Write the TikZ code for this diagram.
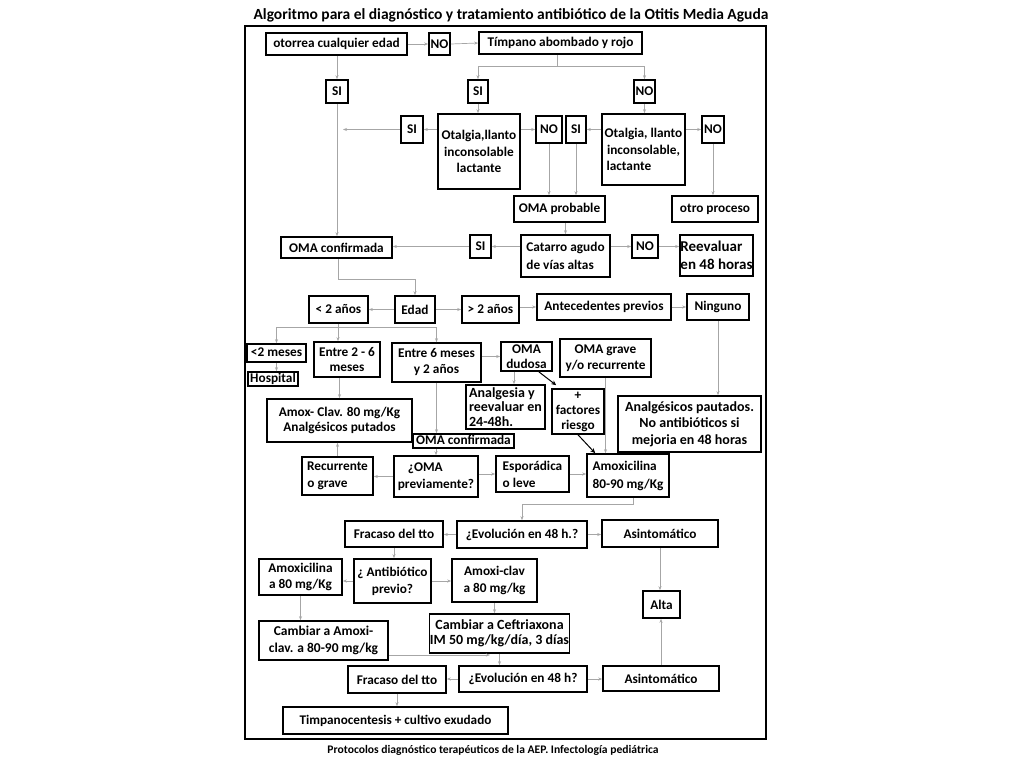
\documentclass[tikz,border=0pt]{standalone}
\usepackage{fontspec}
\setmainfont{Carlito}
\usetikzlibrary{arrows.meta,calc}
\newcommand\fs[2]{\bfseries\fontsize{#1}{#2}\selectfont}
\begin{document}
\begin{tikzpicture}[x=1pt,y=-1pt,
 box/.style={draw, line width=1.6pt, inner sep=1pt, align=center, font=\fs{13.3}{15.5}},
 arr/.style={draw=gray!70, line width=0.7pt, -{Stealth[length=4pt,width=3pt]}},
 ln/.style={draw=gray!70, line width=0.7pt},
 barr/.style={draw=black, line width=1pt, -{Stealth[length=5pt,width=4.5pt]}}]
\useasboundingbox (0,0) rectangle (1024,768);
\fill[white] (0,0) rectangle (1024,768);
\node[font=\fs{15.5}{18}] (title) at (511,15) {Algoritmo para el diagnóstico y tratamiento antibiótico de la Otitis Media Aguda};
\node[font=\fs{11.6}{14}] (foot) at (493,750) {Protocolos diagnóstico terapéuticos de la AEP. Infectología pediátrica};
\draw[line width=1.6pt] (245,26) rectangle (766,739);
% row 1
\node[box,minimum width=141pt,minimum height=22pt] (otorrea) at (336.5,44) {otorrea cualquier edad};
\node[box,minimum width=21pt,minimum height=22pt] (no1) at (439.5,44) {NO};
\node[box,minimum width=163pt,minimum height=22pt] (timp) at (560.5,43) {Tímpano abombado y rojo};
\node[box,minimum width=22pt,minimum height=23pt] (si1) at (337,91.5) {SI};
\node[box,minimum width=20pt,minimum height=23pt] (si2) at (478,91.5) {SI};
\node[box,minimum width=21pt,minimum height=23pt] (no2) at (644.5,91.5) {NO};
% row 2
\node[box,minimum width=22pt,minimum height=27pt] (si3) at (412,129.5) {SI};
\node[box,font=\fs{13.3}{16.5},minimum width=82pt,minimum height=75pt] (ot1) at (479,151.5) {Otalgia,llanto\\inconsolable\\lactante};
\node[box,minimum width=26pt,minimum height=27pt] (no3) at (549,129.5) {NO};
\node[box,minimum width=20pt,minimum height=27pt] (si4) at (576,129.5) {SI};
\node[box,font=\fs{13.3}{16.5},minimum width=83pt,minimum height=71pt] (ot2) at (643.5,149.5) {Otalgia, llanto\\inconsolable,\\lactante\hspace*{2.2em}};
\node[box,minimum width=22pt,minimum height=27pt] (no4) at (713,129.5) {NO};
\node[box,minimum width=91pt,minimum height=26pt] (omaprob) at (559.5,209) {OMA probable};
\node[box,minimum width=86pt,minimum height=26pt] (otro) at (715,209) {otro proceso};
% row 3
\node[box,minimum width=111pt,minimum height=21pt] (omaconf) at (336.5,247.5) {OMA confirmada};
\node[box,minimum width=21pt,minimum height=23pt] (si5) at (480.5,246.5) {SI};
\node[box,align=left,font=\fs{13.3}{18},minimum width=89pt,minimum height=42pt] (cat) at (565.5,256) {Catarro agudo\\de vías altas};
\node[box,align=left,font=\fs{15}{17.5},minimum width=73pt,minimum height=41pt,inner sep=0.3pt] (reev) at (716.5,255.5) {Reevaluar\\en 48 horas};
\node[box,minimum width=26pt,minimum height=23pt] (no5) at (645,246.5) {NO};
% row 4
\node[box,minimum width=40pt,minimum height=27pt] (edad) at (415,309.5) {Edad};
\node[box,minimum width=59pt,minimum height=27pt] (menos2) at (338.5,309.5) {< 2 años};
\node[box,minimum width=57pt,minimum height=27pt] (mas2) at (490.5,309.5) {> 2 años};
\node[box,minimum width=134pt,minimum height=26pt] (ante) at (604,307) {Antecedentes previos};
\node[box,minimum width=62pt,minimum height=26pt] (ning) at (718,307) {Ninguno};
% row 5
\node[box,minimum width=59pt,minimum height=18pt,inner sep=0pt,text height=9.5pt,text depth=3pt] (m2) at (276.5,353) {<2 meses};
\node[box,minimum width=50pt,minimum height=14pt,inner sep=0pt,text height=9.5pt,text depth=3pt] (hosp) at (273,379) {Hospital};
\node[box,minimum width=66pt,minimum height=35pt] (e26) at (347,359.5) {Entre 2 - 6\\meses};
\node[box,font=\fs{13.3}{16},minimum width=89pt,minimum height=39pt] (e6) at (436.5,362.5) {Entre 6 meses\\y 2 años};
\node[box,minimum width=51pt,minimum height=29pt,inner sep=0pt,font=\fs{13.3}{14.5}] (dud) at (526.5,356.5) {OMA\\dudosa};
\node[box,minimum width=91pt,minimum height=38pt] (grave) at (605.5,358) {OMA grave\\y/o recurrente};
\node[box,align=left,minimum width=79pt,minimum height=44pt,inner sep=0.3pt,font=\fs{14}{14.5}] (analg) at (505.5,407) {Analgesia y\\reevaluar en\\24-48h.};
\node[box,minimum width=52pt,minimum height=45pt,inner sep=0pt,font=\fs{13.3}{15}] (fact) at (578,411.5) {+\\factores\\riesgo};
\node[box,font=\fs{13.3}{14.5},minimum width=145pt,minimum height=43pt] (amoxclav) at (339.5,420.5) {Amox- Clav. 80 mg/Kg\\Analgésicos putados};
\node[box,minimum width=101pt,minimum height=14pt,inner sep=0pt,text height=9.5pt,text depth=3pt] (omaconf2) at (463.5,441) {OMA confirmada};
\node[box,minimum width=143pt,minimum height=56pt,font=\fs{14}{16.5}] (analgp) at (689.5,424) {Analgésicos pautados.\\No antibióticos si\\mejoria en 48 horas};
% row 6
\node[box,font=\fs{13.3}{17},minimum width=71pt,minimum height=38pt] (recur) at (337.5,476) {Recurrente\\o grave\hspace*{1.5em}};
\node[box,minimum width=84pt,minimum height=41pt,font=\fs{13.3}{17.5}] (omaprev) at (436,476.5) {¿OMA\hspace*{1.6em}\\previamente?};
\node[box,align=left,font=\fs{13.3}{17},minimum width=73pt,minimum height=36pt] (espor) at (532.5,474) {Esporádica\\o leve};
\node[box,align=left,minimum width=82pt,minimum height=43pt,font=\fs{13.3}{18}] (amoxi) at (628,475.5) {Amoxicilina\\80-90 mg/Kg};
% row 7
\node[box,minimum width=98pt,minimum height=26pt] (frac1) at (394,534) {Fracaso del tto};
\node[box,minimum width=130pt,minimum height=27pt] (evol1) at (522,534.5) {¿Evolución en 48 h.?};
\node[box,minimum width=116pt,minimum height=27pt] (asin1) at (660,533.5) {Asintomático};
% row 8
\node[box,font=\fs{13.3}{16.5},minimum width=83pt,minimum height=36pt] (amox80) at (300.5,577) {Amoxicilina\\a 80 mg/Kg};
\node[box,font=\fs{13.3}{17},minimum width=77pt,minimum height=44pt] (antib) at (392.5,581) {¿ Antibiótico\\previo?};
\node[box,font=\fs{13.3}{17},minimum width=85pt,minimum height=43pt] (amoxiclav80) at (494.5,580.5) {Amoxi-clav\\a 80 mg/kg};
\node[box,minimum width=37pt,minimum height=27pt] (alta) at (661.5,604.5) {Alta};
\node[box,minimum width=129pt,minimum height=39pt,font=\fs{13.5}{17}] (cambamox) at (323.5,640.5) {Cambiar a Amoxi-\\clav. a 80-90 mg/kg};
\node[box,minimum width=137pt,minimum height=39pt,inner sep=0.3pt,font=\fs{14}{15.5}] (ceft) at (499.5,633.5) {Cambiar a Ceftriaxona\\IM 50 mg/kg/día, 3 días};
% row 9
\node[box,minimum width=98pt,minimum height=27pt] (frac2) at (397,679.5) {Fracaso del tto};
\node[box,minimum width=128pt,minimum height=26pt] (evol2) at (523,679) {¿Evolución en 48 h?};
\node[box,minimum width=116pt,minimum height=25pt] (asin2) at (661,678.5) {Asintomático};
\node[box,font=\fs{13.2}{16},minimum width=225pt,minimum height=27pt] (timp2) at (395.5,720.5) {Timpanocentesis + cultivo exudado};
% connectors
\coordinate (br1) at ($(timp.south)+(-3,12)$);
\coordinate (br2) at (338,327);
\coordinate (x514) at (514,0);
\coordinate (ctip) at (490,655);
\draw[arr] (otorrea.east) -- (no1.west);
\draw[arr] (no1.east) -- (timp.west);
\draw[arr] (si1.north |- otorrea.south) -- (si1.north);
\draw[ln] (br1 |- timp.south) -- (br1);
\draw[arr] (br1) -| (si2.north);
\draw[arr] (br1) -| (no2.north);
\draw[arr] (si1.south) -- (si1.south |- omaconf.north);
\draw[arr] (si3.west) -- ($(si1.south |- si3.west)+(6,0)$);
\draw[arr] (si2.south) -- (si2.south |- ot1.north);
\draw[arr] (ot1.west |- si3) -- (si3.east);
\draw[arr] (ot1.east |- no3) -- (no3.west);
\draw[arr] (ot2.west |- si4) -- (si4.east);
\draw[arr] (ot2.east |- no4) -- (no4.west);
\draw[arr] (no2.south) -- (no2.south |- ot2.north);
\draw[arr] (no3.south) -- (no3.south |- omaprob.north);
\draw[arr] (si4.south) -- (si4.south |- omaprob.north);
\draw[arr] (no4.south) -- (no4.south |- otro.north);
\draw[arr] (cat.north |- omaprob.south) -- (cat.north);
\draw[arr] (cat.west |- si5) -- (si5.east);
\draw[arr] (si5.west) -- (si5.west -| omaconf.east);
\draw[arr] (cat.east |- no5) -- (no5.west);
\draw[arr] (no5.east) -- (no5.east -| reev.west);
\draw[arr] ($(omaconf.south)+(1.5,0)$) -- ++(0,21) -| (edad.north);
\draw[arr] (edad.west) -- (menos2.east);
\draw[arr] (edad.east) -- (mas2.west);
\draw[arr] (mas2.east |- ante.west) -- (ante.west);
\draw[arr] (ante.east) -- (ning.west);
\draw[ln] (br2 |- menos2.south) -- (br2);
\draw[arr] (br2) -| (m2.north);
\draw[arr] (br2) -- (br2 |- e26.north);
\draw[arr] (br2) -| (e6.north);
\draw[arr] (m2.south) -- (m2.south |- hosp.north);
\draw[arr] (amoxclav.north |- e26.south) -- (amoxclav.north);
\draw[arr] (e6.east |- dud) -- (dud.west);
\draw[arr] (e6.south) -- (e6.south |- omaconf2.north);
\draw[arr] (dud.south -| x514) -- (analg.north -| x514);
\draw[barr] ($(dud.south east)+(-14,0)$) -- ($(fact.north west)+(5,-3)$);
\draw[barr] (fact.south) -- ($(amoxi.north west)+(9,0)$);
\draw[arr] (grave.south) -- (grave.south |- amoxi.north);
\draw[arr] (ning.south) -- (ning.south |- analgp.north);
\draw[arr] (omaprev.north |- omaconf2.south) -- (omaprev.north);
\draw[arr] (omaprev.west) -- (omaprev.west -| recur.east);
\draw[arr] (omaprev.east |- espor) -- (espor.west);
\draw[arr] (espor.east) -- (espor.east -| amoxi.west);
\draw[arr] (recur.north) -- (recur.north |- amoxclav.south);
\draw[arr] ($(amoxi.south)+(5,0)$) -- ++(0,7) -| (evol1.north);
\draw[arr] (evol1.west) -- (evol1.west -| frac1.east);
\draw[arr] (evol1.east) -- (evol1.east -| asin1.west);
\draw[arr] (frac1.south) -- (frac1.south |- antib.north);
\draw[arr] (asin1.south) -- (asin1.south |- alta.north);
\draw[arr] (antib.west) -- (antib.west -| amox80.east);
\draw[arr] (antib.east) -- (antib.east -| amoxiclav80.west);
\draw[arr] (amox80.south) -- (amox80.south |- cambamox.north);
\draw[arr] (amoxiclav80.south) -- (amoxiclav80.south |- ceft.north);
\draw[arr] (cambamox.east |- ctip) -- (ctip);
\draw[arr] (ceft.south) -- (ceft.south |- evol2.north);
\draw[arr] (evol2.west) -- (evol2.west -| frac2.east);
\draw[arr] (evol2.east) -- (evol2.east -| asin2.west);
\draw[arr] (asin2.north) -- (asin2.north |- alta.south);
\draw[arr] (frac2.south) -- (frac2.south |- timp2.north);
\end{tikzpicture}
\end{document}
